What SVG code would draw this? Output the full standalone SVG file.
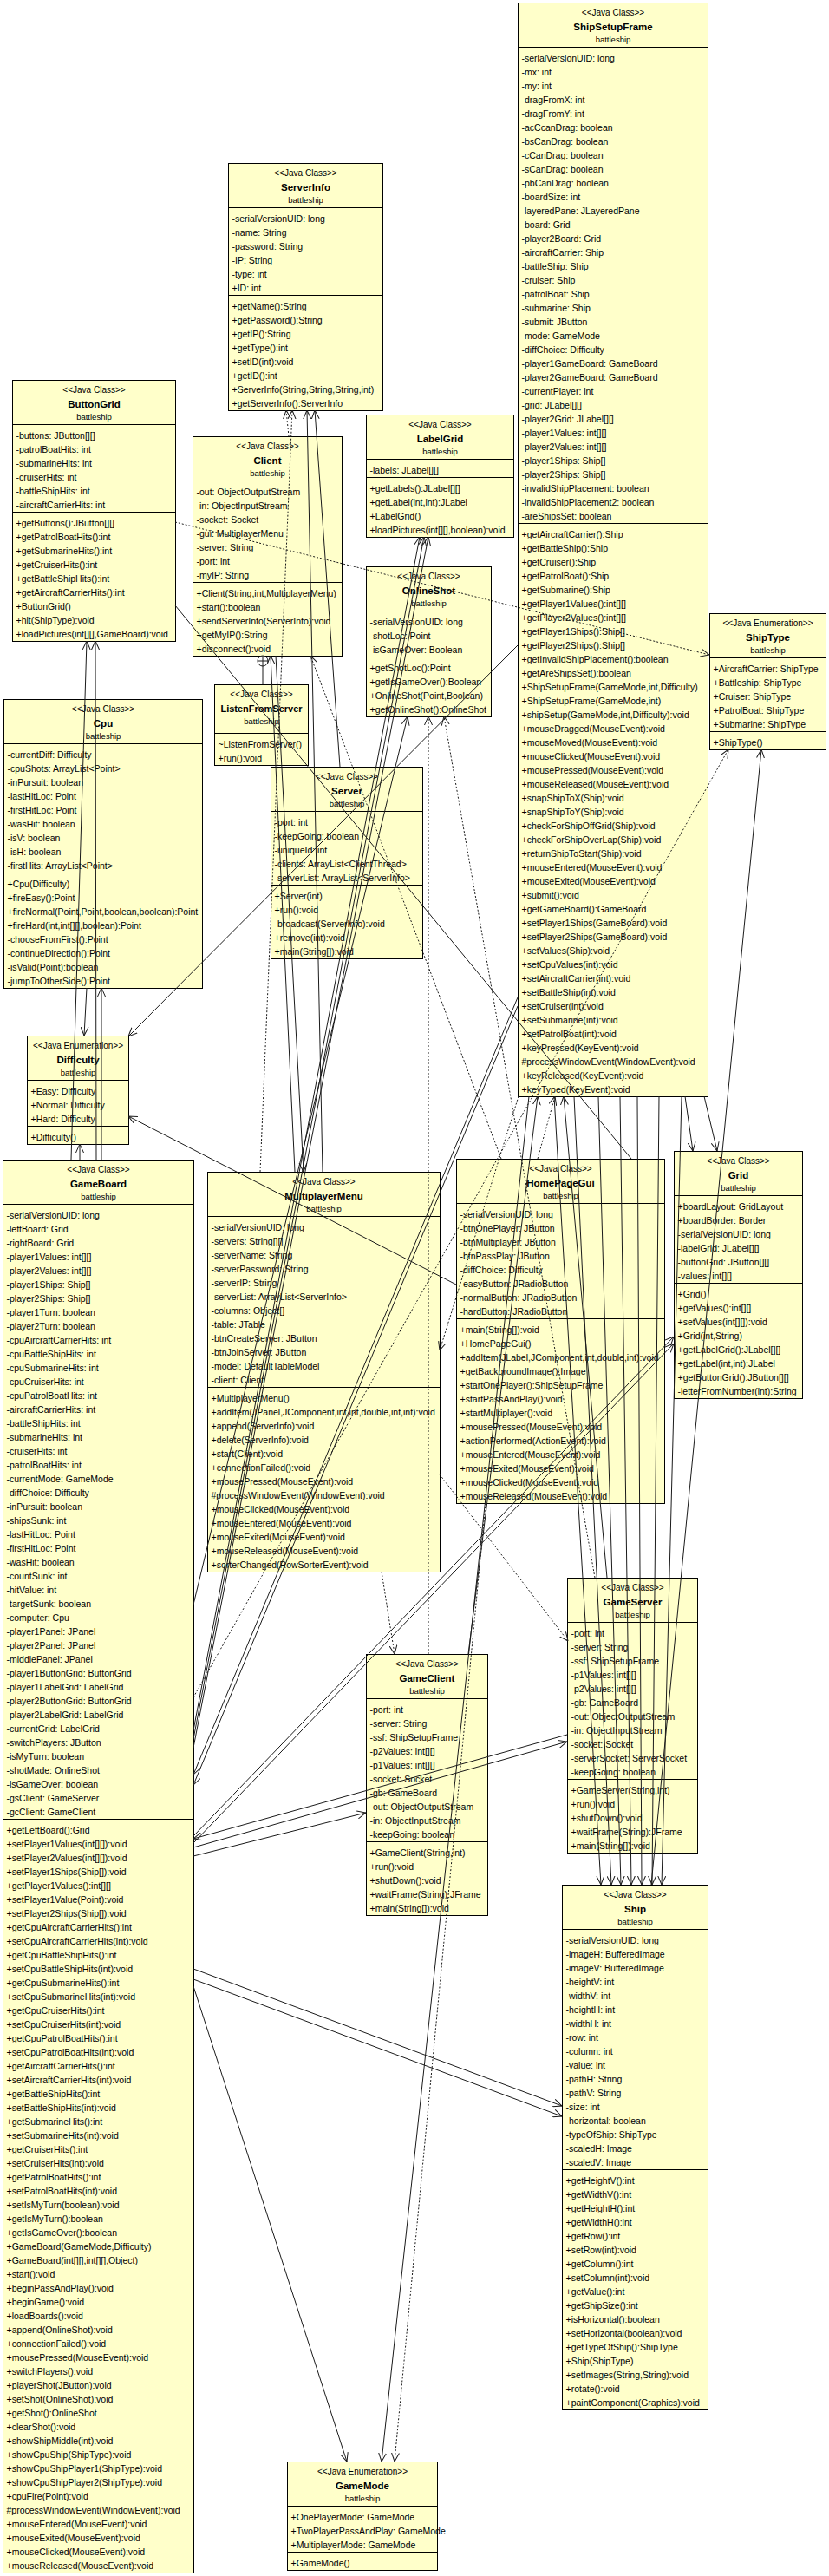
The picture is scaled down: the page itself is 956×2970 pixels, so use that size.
<svg xmlns="http://www.w3.org/2000/svg" width="956" height="2970" viewBox="0 0 956 2970">
<defs>
<style>
.b{fill:#FFFFCA;stroke:#000;stroke-width:1}
.s{stroke:#000;stroke-width:1;fill:none}
text{font-family:"Liberation Sans",Arial,sans-serif;font-size:10.5px;fill:#000}
.st{font-size:10px;text-anchor:middle}
.nm{font-size:11.5px;font-weight:bold;text-anchor:middle}
.pk{font-size:9.5px;text-anchor:middle}
.c{fill:none;stroke:#1a1a1a;stroke-width:1}
.d{stroke-dasharray:2,2}
</style>
<marker id="ah" viewBox="0 0 10 10" refX="10" refY="5" markerWidth="10" markerHeight="10" markerUnits="userSpaceOnUse" orient="auto"><path d="M0,0.5 L10,5 L0,9.5" fill="none" stroke="#1a1a1a" stroke-width="1"/></marker>
</defs>
<rect width="956" height="2970" fill="#fff"/>

<g id="ShipSetupFrame" transform="translate(597.5,3.5)">
<rect class="b" width="219" height="1261"/>
<text class="st" x="109.5" y="14">&lt;&lt;Java Class&gt;&gt;</text>
<text class="nm" x="109.5" y="31">ShipSetupFrame</text>
<text class="pk" x="109.5" y="45">battleship</text>
<path class="s" d="M0,51H219M0,600H219"/>
<text x="4" y="67"><tspan>-serialVersionUID: long</tspan><tspan x="4" dy="16">-mx: int</tspan><tspan x="4" dy="16">-my: int</tspan><tspan x="4" dy="16">-dragFromX: int</tspan><tspan x="4" dy="16">-dragFromY: int</tspan><tspan x="4" dy="16">-acCcanDrag: boolean</tspan><tspan x="4" dy="16">-bsCanDrag: boolean</tspan><tspan x="4" dy="16">-cCanDrag: boolean</tspan><tspan x="4" dy="16">-sCanDrag: boolean</tspan><tspan x="4" dy="16">-pbCanDrag: boolean</tspan><tspan x="4" dy="16">-boardSize: int</tspan><tspan x="4" dy="16">-layeredPane: JLayeredPane</tspan><tspan x="4" dy="16">-board: Grid</tspan><tspan x="4" dy="16">-player2Board: Grid</tspan><tspan x="4" dy="16">-aircraftCarrier: Ship</tspan><tspan x="4" dy="16">-battleShip: Ship</tspan><tspan x="4" dy="16">-cruiser: Ship</tspan><tspan x="4" dy="16">-patrolBoat: Ship</tspan><tspan x="4" dy="16">-submarine: Ship</tspan><tspan x="4" dy="16">-submit: JButton</tspan><tspan x="4" dy="16">-mode: GameMode</tspan><tspan x="4" dy="16">-diffChoice: Difficulty</tspan><tspan x="4" dy="16">-player1GameBoard: GameBoard</tspan><tspan x="4" dy="16">-player2GameBoard: GameBoard</tspan><tspan x="4" dy="16">-currentPlayer: int</tspan><tspan x="4" dy="16">-grid: JLabel[][]</tspan><tspan x="4" dy="16">-player2Grid: JLabel[][]</tspan><tspan x="4" dy="16">-player1Values: int[][]</tspan><tspan x="4" dy="16">-player2Values: int[][]</tspan><tspan x="4" dy="16">-player1Ships: Ship[]</tspan><tspan x="4" dy="16">-player2Ships: Ship[]</tspan><tspan x="4" dy="16">-invalidShipPlacement: boolean</tspan><tspan x="4" dy="16">-invalidShipPlacement2: boolean</tspan><tspan x="4" dy="16">-areShipsSet: boolean</tspan></text>
<text x="4" y="616"><tspan>+getAircraftCarrier():Ship</tspan><tspan x="4" dy="16">+getBattleShip():Ship</tspan><tspan x="4" dy="16">+getCruiser():Ship</tspan><tspan x="4" dy="16">+getPatrolBoat():Ship</tspan><tspan x="4" dy="16">+getSubmarine():Ship</tspan><tspan x="4" dy="16">+getPlayer1Values():int[][]</tspan><tspan x="4" dy="16">+getPlayer2Values():int[][]</tspan><tspan x="4" dy="16">+getPlayer1Ships():Ship[]</tspan><tspan x="4" dy="16">+getPlayer2Ships():Ship[]</tspan><tspan x="4" dy="16">+getInvalidShipPlacement():boolean</tspan><tspan x="4" dy="16">+getAreShipsSet():boolean</tspan><tspan x="4" dy="16">+ShipSetupFrame(GameMode,int,Difficulty)</tspan><tspan x="4" dy="16">+ShipSetupFrame(GameMode,int)</tspan><tspan x="4" dy="16">+shipSetup(GameMode,int,Difficulty):void</tspan><tspan x="4" dy="16">+mouseDragged(MouseEvent):void</tspan><tspan x="4" dy="16">+mouseMoved(MouseEvent):void</tspan><tspan x="4" dy="16">+mouseClicked(MouseEvent):void</tspan><tspan x="4" dy="16">+mousePressed(MouseEvent):void</tspan><tspan x="4" dy="16">+mouseReleased(MouseEvent):void</tspan><tspan x="4" dy="16">+snapShipToX(Ship):void</tspan><tspan x="4" dy="16">+snapShipToY(Ship):void</tspan><tspan x="4" dy="16">+checkForShipOffGrid(Ship):void</tspan><tspan x="4" dy="16">+checkForShipOverLap(Ship):void</tspan><tspan x="4" dy="16">+returnShipToStart(Ship):void</tspan><tspan x="4" dy="16">+mouseEntered(MouseEvent):void</tspan><tspan x="4" dy="16">+mouseExited(MouseEvent):void</tspan><tspan x="4" dy="16">+submit():void</tspan><tspan x="4" dy="16">+getGameBoard():GameBoard</tspan><tspan x="4" dy="16">+setPlayer1Ships(GameBoard):void</tspan><tspan x="4" dy="16">+setPlayer2Ships(GameBoard):void</tspan><tspan x="4" dy="16">+setValues(Ship):void</tspan><tspan x="4" dy="16">+setCpuValues(int):void</tspan><tspan x="4" dy="16">+setAircraftCarrier(int):void</tspan><tspan x="4" dy="16">+setBattleShip(int):void</tspan><tspan x="4" dy="16">+setCruiser(int):void</tspan><tspan x="4" dy="16">+setSubmarine(int):void</tspan><tspan x="4" dy="16">+setPatrolBoat(int):void</tspan><tspan x="4" dy="16">+keyPressed(KeyEvent):void</tspan><tspan x="4" dy="16">#processWindowEvent(WindowEvent):void</tspan><tspan x="4" dy="16">+keyReleased(KeyEvent):void</tspan><tspan x="4" dy="16">+keyTyped(KeyEvent):void</tspan></text>
</g>

<g id="ServerInfo" transform="translate(263.5,188.5)">
<rect class="b" width="178" height="285"/>
<text class="st" x="89" y="14">&lt;&lt;Java Class&gt;&gt;</text>
<text class="nm" x="89" y="31">ServerInfo</text>
<text class="pk" x="89" y="45">battleship</text>
<path class="s" d="M0,51H178M0,152H178"/>
<text x="4" y="67"><tspan>-serialVersionUID: long</tspan><tspan x="4" dy="16">-name: String</tspan><tspan x="4" dy="16">-password: String</tspan><tspan x="4" dy="16">-IP: String</tspan><tspan x="4" dy="16">-type: int</tspan><tspan x="4" dy="16">+ID: int</tspan></text>
<text x="4" y="168"><tspan>+getName():String</tspan><tspan x="4" dy="16">+getPassword():String</tspan><tspan x="4" dy="16">+getIP():String</tspan><tspan x="4" dy="16">+getType():int</tspan><tspan x="4" dy="16">+setID(int):void</tspan><tspan x="4" dy="16">+getID():int</tspan><tspan x="4" dy="16">+ServerInfo(String,String,String,int)</tspan><tspan x="4" dy="16">+getServerInfo():ServerInfo</tspan></text>
</g>

<g id="ButtonGrid" transform="translate(14.5,438.5)">
<rect class="b" width="188" height="301"/>
<text class="st" x="94" y="14">&lt;&lt;Java Class&gt;&gt;</text>
<text class="nm" x="94" y="31">ButtonGrid</text>
<text class="pk" x="94" y="45">battleship</text>
<path class="s" d="M0,51H188M0,152H188"/>
<text x="4" y="67"><tspan>-buttons: JButton[][]</tspan><tspan x="4" dy="16">-patrolBoatHits: int</tspan><tspan x="4" dy="16">-submarineHits: int</tspan><tspan x="4" dy="16">-cruiserHits: int</tspan><tspan x="4" dy="16">-battleShipHits: int</tspan><tspan x="4" dy="16">-aircraftCarrierHits: int</tspan></text>
<text x="4" y="168"><tspan>+getButtons():JButton[][]</tspan><tspan x="4" dy="16">+getPatrolBoatHits():int</tspan><tspan x="4" dy="16">+getSubmarineHits():int</tspan><tspan x="4" dy="16">+getCruiserHits():int</tspan><tspan x="4" dy="16">+getBattleShipHits():int</tspan><tspan x="4" dy="16">+getAircraftCarrierHits():int</tspan><tspan x="4" dy="16">+ButtonGrid()</tspan><tspan x="4" dy="16">+hit(ShipType):void</tspan><tspan x="4" dy="16">+loadPictures(int[][],GameBoard):void</tspan></text>
</g>

<g id="Client" transform="translate(222.5,503.5)">
<rect class="b" width="172" height="253"/>
<text class="st" x="86" y="14">&lt;&lt;Java Class&gt;&gt;</text>
<text class="nm" x="86" y="31">Client</text>
<text class="pk" x="86" y="45">battleship</text>
<path class="s" d="M0,51H172M0,168H172"/>
<text x="4" y="67"><tspan>-out: ObjectOutputStream</tspan><tspan x="4" dy="16">-in: ObjectInputStream</tspan><tspan x="4" dy="16">-socket: Socket</tspan><tspan x="4" dy="16">-gui: MultiplayerMenu</tspan><tspan x="4" dy="16">-server: String</tspan><tspan x="4" dy="16">-port: int</tspan><tspan x="4" dy="16">-myIP: String</tspan></text>
<text x="4" y="184"><tspan>+Client(String,int,MultiplayerMenu)</tspan><tspan x="4" dy="16">+start():boolean</tspan><tspan x="4" dy="16">+sendServerInfo(ServerInfo):void</tspan><tspan x="4" dy="16">+getMyIP():String</tspan><tspan x="4" dy="16">+disconnect():void</tspan></text>
</g>

<g id="LabelGrid" transform="translate(422.5,478.5)">
<rect class="b" width="170" height="141"/>
<text class="st" x="85" y="14">&lt;&lt;Java Class&gt;&gt;</text>
<text class="nm" x="85" y="31">LabelGrid</text>
<text class="pk" x="85" y="45">battleship</text>
<path class="s" d="M0,51H170M0,72H170"/>
<text x="4" y="67">-labels: JLabel[][]</text>
<text x="4" y="88"><tspan>+getLabels():JLabel[][]</tspan><tspan x="4" dy="16">+getLabel(int,int):JLabel</tspan><tspan x="4" dy="16">+LabelGrid()</tspan><tspan x="4" dy="16">+loadPictures(int[][],boolean):void</tspan></text>
</g>

<g id="OnlineShot" transform="translate(422.5,653.5)">
<rect class="b" width="144" height="173"/>
<text class="st" x="72" y="14">&lt;&lt;Java Class&gt;&gt;</text>
<text class="nm" x="72" y="31">OnlineShot</text>
<text class="pk" x="72" y="45">battleship</text>
<path class="s" d="M0,51H144M0,104H144"/>
<text x="4" y="67"><tspan>-serialVersionUID: long</tspan><tspan x="4" dy="16">-shotLoc: Point</tspan><tspan x="4" dy="16">-isGameOver: Boolean</tspan></text>
<text x="4" y="120"><tspan>+getShotLoc():Point</tspan><tspan x="4" dy="16">+getIsGameOver():Boolean</tspan><tspan x="4" dy="16">+OnlineShot(Point,Boolean)</tspan><tspan x="4" dy="16">+getOnlineShot():OnlineShot</tspan></text>
</g>

<g id="ListenFromServer" transform="translate(247.5,789.5)">
<rect class="b" width="108" height="93"/>
<text class="st" x="54" y="14">&lt;&lt;Java Class&gt;&gt;</text>
<text class="nm" x="54" y="31" style="font-size:11px">ListenFromServer</text>
<text class="pk" x="54" y="45">battleship</text>
<path class="s" d="M0,51H108M0,56H108"/>
<text x="4" y="72"><tspan>~ListenFromServer()</tspan><tspan x="4" dy="16">+run():void</tspan></text>
</g>

<g id="Server" transform="translate(312.5,884.5)">
<rect class="b" width="175" height="221"/>
<text class="st" x="87.5" y="14">&lt;&lt;Java Class&gt;&gt;</text>
<text class="nm" x="87.5" y="31">Server</text>
<text class="pk" x="87.5" y="45">battleship</text>
<path class="s" d="M0,51H175M0,136H175"/>
<text x="4" y="67"><tspan>-port: int</tspan><tspan x="4" dy="16">-keepGoing: boolean</tspan><tspan x="4" dy="16">-uniqueId: int</tspan><tspan x="4" dy="16">-clients: ArrayList&lt;ClientThread&gt;</tspan><tspan x="4" dy="16">-serverList: ArrayList&lt;ServerInfo&gt;</tspan></text>
<text x="4" y="152"><tspan>+Server(int)</tspan><tspan x="4" dy="16">+run():void</tspan><tspan x="4" dy="16">-broadcast(ServerInfo):void</tspan><tspan x="4" dy="16">+remove(int):void</tspan><tspan x="4" dy="16">+main(String[]):void</tspan></text>
</g>

<g id="Cpu" transform="translate(4.5,806.5)">
<rect class="b" width="229" height="333"/>
<text class="st" x="114.5" y="14">&lt;&lt;Java Class&gt;&gt;</text>
<text class="nm" x="114.5" y="31">Cpu</text>
<text class="pk" x="114.5" y="45">battleship</text>
<path class="s" d="M0,51H229M0,200H229"/>
<text x="4" y="67"><tspan>-currentDiff: Difficulty</tspan><tspan x="4" dy="16">-cpuShots: ArrayList&lt;Point&gt;</tspan><tspan x="4" dy="16">-inPursuit: boolean</tspan><tspan x="4" dy="16">-lastHitLoc: Point</tspan><tspan x="4" dy="16">-firstHitLoc: Point</tspan><tspan x="4" dy="16">-wasHit: boolean</tspan><tspan x="4" dy="16">-isV: boolean</tspan><tspan x="4" dy="16">-isH: boolean</tspan><tspan x="4" dy="16">-firstHits: ArrayList&lt;Point&gt;</tspan></text>
<text x="4" y="216"><tspan>+Cpu(Difficulty)</tspan><tspan x="4" dy="16">+fireEasy():Point</tspan><tspan x="4" dy="16">+fireNormal(Point,Point,boolean,boolean):Point</tspan><tspan x="4" dy="16">+fireHard(int,int[][],boolean):Point</tspan><tspan x="4" dy="16">-chooseFromFirst():Point</tspan><tspan x="4" dy="16">-continueDirection():Point</tspan><tspan x="4" dy="16">-isValid(Point):boolean</tspan><tspan x="4" dy="16">-jumpToOtherSide():Point</tspan></text>
</g>

<g id="Difficulty" transform="translate(31.5,1194.5)">
<rect class="b" width="117" height="125"/>
<text class="st" x="58.5" y="14">&lt;&lt;Java Enumeration&gt;&gt;</text>
<text class="nm" x="58.5" y="31">Difficulty</text>
<text class="pk" x="58.5" y="45">battleship</text>
<path class="s" d="M0,51H117M0,104H117"/>
<text x="4" y="67"><tspan>+Easy: Difficulty</tspan><tspan x="4" dy="16">+Normal: Difficulty</tspan><tspan x="4" dy="16">+Hard: Difficulty</tspan></text>
<text x="4" y="120">+Difficulty()</text>
</g>

<g id="ShipType" transform="translate(818.5,707.5)">
<rect class="b" width="134" height="157"/>
<text class="st" x="67" y="14">&lt;&lt;Java Enumeration&gt;&gt;</text>
<text class="nm" x="67" y="31">ShipType</text>
<text class="pk" x="67" y="45">battleship</text>
<path class="s" d="M0,51H134M0,136H134"/>
<text x="4" y="67"><tspan>+AircraftCarrier: ShipType</tspan><tspan x="4" dy="16">+Battleship: ShipType</tspan><tspan x="4" dy="16">+Cruiser: ShipType</tspan><tspan x="4" dy="16">+PatrolBoat: ShipType</tspan><tspan x="4" dy="16">+Submarine: ShipType</tspan></text>
<text x="4" y="152">+ShipType()</text>
</g>

<g id="GameBoard" transform="translate(3.5,1337.5)">
<rect class="b" width="220" height="1629"/>
<text class="st" x="110" y="14">&lt;&lt;Java Class&gt;&gt;</text>
<text class="nm" x="110" y="31">GameBoard</text>
<text class="pk" x="110" y="45">battleship</text>
<path class="s" d="M0,51H220M0,760H220"/>
<text x="4" y="67"><tspan>-serialVersionUID: long</tspan><tspan x="4" dy="16">-leftBoard: Grid</tspan><tspan x="4" dy="16">-rightBoard: Grid</tspan><tspan x="4" dy="16">-player1Values: int[][]</tspan><tspan x="4" dy="16">-player2Values: int[][]</tspan><tspan x="4" dy="16">-player1Ships: Ship[]</tspan><tspan x="4" dy="16">-player2Ships: Ship[]</tspan><tspan x="4" dy="16">-player1Turn: boolean</tspan><tspan x="4" dy="16">-player2Turn: boolean</tspan><tspan x="4" dy="16">-cpuAircraftCarrierHits: int</tspan><tspan x="4" dy="16">-cpuBattleShipHits: int</tspan><tspan x="4" dy="16">-cpuSubmarineHits: int</tspan><tspan x="4" dy="16">-cpuCruiserHits: int</tspan><tspan x="4" dy="16">-cpuPatrolBoatHits: int</tspan><tspan x="4" dy="16">-aircraftCarrierHits: int</tspan><tspan x="4" dy="16">-battleShipHits: int</tspan><tspan x="4" dy="16">-submarineHits: int</tspan><tspan x="4" dy="16">-cruiserHits: int</tspan><tspan x="4" dy="16">-patrolBoatHits: int</tspan><tspan x="4" dy="16">-currentMode: GameMode</tspan><tspan x="4" dy="16">-diffChoice: Difficulty</tspan><tspan x="4" dy="16">-inPursuit: boolean</tspan><tspan x="4" dy="16">-shipsSunk: int</tspan><tspan x="4" dy="16">-lastHitLoc: Point</tspan><tspan x="4" dy="16">-firstHitLoc: Point</tspan><tspan x="4" dy="16">-wasHit: boolean</tspan><tspan x="4" dy="16">-countSunk: int</tspan><tspan x="4" dy="16">-hitValue: int</tspan><tspan x="4" dy="16">-targetSunk: boolean</tspan><tspan x="4" dy="16">-computer: Cpu</tspan><tspan x="4" dy="16">-player1Panel: JPanel</tspan><tspan x="4" dy="16">-player2Panel: JPanel</tspan><tspan x="4" dy="16">-middlePanel: JPanel</tspan><tspan x="4" dy="16">-player1ButtonGrid: ButtonGrid</tspan><tspan x="4" dy="16">-player1LabelGrid: LabelGrid</tspan><tspan x="4" dy="16">-player2ButtonGrid: ButtonGrid</tspan><tspan x="4" dy="16">-player2LabelGrid: LabelGrid</tspan><tspan x="4" dy="16">-currentGrid: LabelGrid</tspan><tspan x="4" dy="16">-switchPlayers: JButton</tspan><tspan x="4" dy="16">-isMyTurn: boolean</tspan><tspan x="4" dy="16">-shotMade: OnlineShot</tspan><tspan x="4" dy="16">-isGameOver: boolean</tspan><tspan x="4" dy="16">-gsClient: GameServer</tspan><tspan x="4" dy="16">-gcClient: GameClient</tspan></text>
<text x="4" y="776"><tspan>+getLeftBoard():Grid</tspan><tspan x="4" dy="16">+setPlayer1Values(int[][]):void</tspan><tspan x="4" dy="16">+setPlayer2Values(int[][]):void</tspan><tspan x="4" dy="16">+setPlayer1Ships(Ship[]):void</tspan><tspan x="4" dy="16">+getPlayer1Values():int[][]</tspan><tspan x="4" dy="16">+setPlayer1Value(Point):void</tspan><tspan x="4" dy="16">+setPlayer2Ships(Ship[]):void</tspan><tspan x="4" dy="16">+getCpuAircraftCarrierHits():int</tspan><tspan x="4" dy="16">+setCpuAircraftCarrierHits(int):void</tspan><tspan x="4" dy="16">+getCpuBattleShipHits():int</tspan><tspan x="4" dy="16">+setCpuBattleShipHits(int):void</tspan><tspan x="4" dy="16">+getCpuSubmarineHits():int</tspan><tspan x="4" dy="16">+setCpuSubmarineHits(int):void</tspan><tspan x="4" dy="16">+getCpuCruiserHits():int</tspan><tspan x="4" dy="16">+setCpuCruiserHits(int):void</tspan><tspan x="4" dy="16">+getCpuPatrolBoatHits():int</tspan><tspan x="4" dy="16">+setCpuPatrolBoatHits(int):void</tspan><tspan x="4" dy="16">+getAircraftCarrierHits():int</tspan><tspan x="4" dy="16">+setAircraftCarrierHits(int):void</tspan><tspan x="4" dy="16">+getBattleShipHits():int</tspan><tspan x="4" dy="16">+setBattleShipHits(int):void</tspan><tspan x="4" dy="16">+getSubmarineHits():int</tspan><tspan x="4" dy="16">+setSubmarineHits(int):void</tspan><tspan x="4" dy="16">+getCruiserHits():int</tspan><tspan x="4" dy="16">+setCruiserHits(int):void</tspan><tspan x="4" dy="16">+getPatrolBoatHits():int</tspan><tspan x="4" dy="16">+setPatrolBoatHits(int):void</tspan><tspan x="4" dy="16">+setIsMyTurn(boolean):void</tspan><tspan x="4" dy="16">+getIsMyTurn():boolean</tspan><tspan x="4" dy="16">+getIsGameOver():boolean</tspan><tspan x="4" dy="16">+GameBoard(GameMode,Difficulty)</tspan><tspan x="4" dy="16">+GameBoard(int[][],int[][],Object)</tspan><tspan x="4" dy="16">+start():void</tspan><tspan x="4" dy="16">+beginPassAndPlay():void</tspan><tspan x="4" dy="16">+beginGame():void</tspan><tspan x="4" dy="16">+loadBoards():void</tspan><tspan x="4" dy="16">+append(OnlineShot):void</tspan><tspan x="4" dy="16">+connectionFailed():void</tspan><tspan x="4" dy="16">+mousePressed(MouseEvent):void</tspan><tspan x="4" dy="16">+switchPlayers():void</tspan><tspan x="4" dy="16">+playerShot(JButton):void</tspan><tspan x="4" dy="16">+setShot(OnlineShot):void</tspan><tspan x="4" dy="16">+getShot():OnlineShot</tspan><tspan x="4" dy="16">+clearShot():void</tspan><tspan x="4" dy="16">+showShipMiddle(int):void</tspan><tspan x="4" dy="16">+showCpuShip(ShipType):void</tspan><tspan x="4" dy="16">+showCpuShipPlayer1(ShipType):void</tspan><tspan x="4" dy="16">+showCpuShipPlayer2(ShipType):void</tspan><tspan x="4" dy="16">+cpuFire(Point):void</tspan><tspan x="4" dy="16">#processWindowEvent(WindowEvent):void</tspan><tspan x="4" dy="16">+mouseEntered(MouseEvent):void</tspan><tspan x="4" dy="16">+mouseExited(MouseEvent):void</tspan><tspan x="4" dy="16">+mouseClicked(MouseEvent):void</tspan><tspan x="4" dy="16">+mouseReleased(MouseEvent):void</tspan></text>
</g>

<g id="MultiplayerMenu" transform="translate(239.5,1351.5)">
<rect class="b" width="268" height="461"/>
<text class="st" x="134" y="14">&lt;&lt;Java Class&gt;&gt;</text>
<text class="nm" x="134" y="31">MultiplayerMenu</text>
<text class="pk" x="134" y="45">battleship</text>
<path class="s" d="M0,51H268M0,248H268"/>
<text x="4" y="67"><tspan>-serialVersionUID: long</tspan><tspan x="4" dy="16">-servers: String[][]</tspan><tspan x="4" dy="16">-serverName: String</tspan><tspan x="4" dy="16">-serverPassword: String</tspan><tspan x="4" dy="16">-serverIP: String</tspan><tspan x="4" dy="16">-serverList: ArrayList&lt;ServerInfo&gt;</tspan><tspan x="4" dy="16">-columns: Object[]</tspan><tspan x="4" dy="16">-table: JTable</tspan><tspan x="4" dy="16">-btnCreateServer: JButton</tspan><tspan x="4" dy="16">-btnJoinServer: JButton</tspan><tspan x="4" dy="16">-model: DefaultTableModel</tspan><tspan x="4" dy="16">-client: Client</tspan></text>
<text x="4" y="264"><tspan>+MultiplayerMenu()</tspan><tspan x="4" dy="16">+addItem(JPanel,JComponent,int,int,double,int,int):void</tspan><tspan x="4" dy="16">+append(ServerInfo):void</tspan><tspan x="4" dy="16">+delete(ServerInfo):void</tspan><tspan x="4" dy="16">+start(Client):void</tspan><tspan x="4" dy="16">+connectionFailed():void</tspan><tspan x="4" dy="16">+mousePressed(MouseEvent):void</tspan><tspan x="4" dy="16">#processWindowEvent(WindowEvent):void</tspan><tspan x="4" dy="16">+mouseClicked(MouseEvent):void</tspan><tspan x="4" dy="16">+mouseEntered(MouseEvent):void</tspan><tspan x="4" dy="16">+mouseExited(MouseEvent):void</tspan><tspan x="4" dy="16">+mouseReleased(MouseEvent):void</tspan><tspan x="4" dy="16">+sorterChanged(RowSorterEvent):void</tspan></text>
</g>

<g id="HomePageGui" transform="translate(526.5,1336.5)">
<rect class="b" width="240" height="397"/>
<text class="st" x="120" y="14">&lt;&lt;Java Class&gt;&gt;</text>
<text class="nm" x="120" y="31">HomePageGui</text>
<text class="pk" x="120" y="45">battleship</text>
<path class="s" d="M0,51H240M0,184H240"/>
<text x="4" y="67"><tspan>-serialVersionUID: long</tspan><tspan x="4" dy="16">-btnOnePlayer: JButton</tspan><tspan x="4" dy="16">-btnMultiplayer: JButton</tspan><tspan x="4" dy="16">-btnPassPlay: JButton</tspan><tspan x="4" dy="16">-diffChoice: Difficulty</tspan><tspan x="4" dy="16">-easyButton: JRadioButton</tspan><tspan x="4" dy="16">-normalButton: JRadioButton</tspan><tspan x="4" dy="16">-hardButton: JRadioButton</tspan></text>
<text x="4" y="200"><tspan>+main(String[]):void</tspan><tspan x="4" dy="16">+HomePageGui()</tspan><tspan x="4" dy="16">+addItem(JLabel,JComponent,int,double,int):void</tspan><tspan x="4" dy="16">+getBackgroundImage():Image</tspan><tspan x="4" dy="16">+startOnePlayer():ShipSetupFrame</tspan><tspan x="4" dy="16">+startPassAndPlay():void</tspan><tspan x="4" dy="16">+startMultiplayer():void</tspan><tspan x="4" dy="16">+mousePressed(MouseEvent):void</tspan><tspan x="4" dy="16">+actionPerformed(ActionEvent):void</tspan><tspan x="4" dy="16">+mouseEntered(MouseEvent):void</tspan><tspan x="4" dy="16">+mouseExited(MouseEvent):void</tspan><tspan x="4" dy="16">+mouseClicked(MouseEvent):void</tspan><tspan x="4" dy="16">+mouseReleased(MouseEvent):void</tspan></text>
</g>

<g id="Grid" transform="translate(777.5,1327.5)">
<rect class="b" width="148" height="285"/>
<text class="st" x="74" y="14">&lt;&lt;Java Class&gt;&gt;</text>
<text class="nm" x="74" y="31">Grid</text>
<text class="pk" x="74" y="45">battleship</text>
<path class="s" d="M0,51H148M0,152H148"/>
<text x="4" y="67"><tspan>+boardLayout: GridLayout</tspan><tspan x="4" dy="16">+boardBorder: Border</tspan><tspan x="4" dy="16">-serialVersionUID: long</tspan><tspan x="4" dy="16">-labelGrid: JLabel[][]</tspan><tspan x="4" dy="16">-buttonGrid: JButton[][]</tspan><tspan x="4" dy="16">-values: int[][]</tspan></text>
<text x="4" y="168"><tspan>+Grid()</tspan><tspan x="4" dy="16">+getValues():int[][]</tspan><tspan x="4" dy="16">+setValues(int[][]):void</tspan><tspan x="4" dy="16">+Grid(int,String)</tspan><tspan x="4" dy="16">+getLabelGrid():JLabel[][]</tspan><tspan x="4" dy="16">+getLabel(int,int):JLabel</tspan><tspan x="4" dy="16">+getButtonGrid():JButton[][]</tspan><tspan x="4" dy="16">-letterFromNumber(int):String</tspan></text>
</g>

<g id="GameServer" transform="translate(654.5,1819.5)">
<rect class="b" width="150" height="317"/>
<text class="st" x="75" y="14">&lt;&lt;Java Class&gt;&gt;</text>
<text class="nm" x="75" y="31">GameServer</text>
<text class="pk" x="75" y="45">battleship</text>
<path class="s" d="M0,51H150M0,232H150"/>
<text x="4" y="67"><tspan>-port: int</tspan><tspan x="4" dy="16">-server: String</tspan><tspan x="4" dy="16">-ssf: ShipSetupFrame</tspan><tspan x="4" dy="16">-p1Values: int[][]</tspan><tspan x="4" dy="16">-p2Values: int[][]</tspan><tspan x="4" dy="16">-gb: GameBoard</tspan><tspan x="4" dy="16">-out: ObjectOutputStream</tspan><tspan x="4" dy="16">-in: ObjectInputStream</tspan><tspan x="4" dy="16">-socket: Socket</tspan><tspan x="4" dy="16">-serverSocket: ServerSocket</tspan><tspan x="4" dy="16">-keepGoing: boolean</tspan></text>
<text x="4" y="248"><tspan>+GameServer(String,int)</tspan><tspan x="4" dy="16">+run():void</tspan><tspan x="4" dy="16">+shutDown():void</tspan><tspan x="4" dy="16">+waitFrame(String):JFrame</tspan><tspan x="4" dy="16">+main(String[]):void</tspan></text>
</g>

<g id="GameClient" transform="translate(422.5,1907.5)">
<rect class="b" width="140" height="301"/>
<text class="st" x="70" y="14">&lt;&lt;Java Class&gt;&gt;</text>
<text class="nm" x="70" y="31">GameClient</text>
<text class="pk" x="70" y="45">battleship</text>
<path class="s" d="M0,51H140M0,216H140"/>
<text x="4" y="67"><tspan>-port: int</tspan><tspan x="4" dy="16">-server: String</tspan><tspan x="4" dy="16">-ssf: ShipSetupFrame</tspan><tspan x="4" dy="16">-p2Values: int[][]</tspan><tspan x="4" dy="16">-p1Values: int[][]</tspan><tspan x="4" dy="16">-socket: Socket</tspan><tspan x="4" dy="16">-gb: GameBoard</tspan><tspan x="4" dy="16">-out: ObjectOutputStream</tspan><tspan x="4" dy="16">-in: ObjectInputStream</tspan><tspan x="4" dy="16">-keepGoing: boolean</tspan></text>
<text x="4" y="232"><tspan>+GameClient(String,int)</tspan><tspan x="4" dy="16">+run():void</tspan><tspan x="4" dy="16">+shutDown():void</tspan><tspan x="4" dy="16">+waitFrame(String):JFrame</tspan><tspan x="4" dy="16">+main(String[]):void</tspan></text>
</g>

<g id="Ship" transform="translate(648.5,2173.5)">
<rect class="b" width="168" height="605"/>
<text class="st" x="84" y="14">&lt;&lt;Java Class&gt;&gt;</text>
<text class="nm" x="84" y="31">Ship</text>
<text class="pk" x="84" y="45">battleship</text>
<path class="s" d="M0,51H168M0,328H168"/>
<text x="4" y="67"><tspan>-serialVersionUID: long</tspan><tspan x="4" dy="16">-imageH: BufferedImage</tspan><tspan x="4" dy="16">-imageV: BufferedImage</tspan><tspan x="4" dy="16">-heightV: int</tspan><tspan x="4" dy="16">-widthV: int</tspan><tspan x="4" dy="16">-heightH: int</tspan><tspan x="4" dy="16">-widthH: int</tspan><tspan x="4" dy="16">-row: int</tspan><tspan x="4" dy="16">-column: int</tspan><tspan x="4" dy="16">-value: int</tspan><tspan x="4" dy="16">-pathH: String</tspan><tspan x="4" dy="16">-pathV: String</tspan><tspan x="4" dy="16">-size: int</tspan><tspan x="4" dy="16">-horizontal: boolean</tspan><tspan x="4" dy="16">-typeOfShip: ShipType</tspan><tspan x="4" dy="16">-scaledH: Image</tspan><tspan x="4" dy="16">-scaledV: Image</tspan></text>
<text x="4" y="344"><tspan>+getHeightV():int</tspan><tspan x="4" dy="16">+getWidthV():int</tspan><tspan x="4" dy="16">+getHeightH():int</tspan><tspan x="4" dy="16">+getWidthH():int</tspan><tspan x="4" dy="16">+getRow():int</tspan><tspan x="4" dy="16">+setRow(int):void</tspan><tspan x="4" dy="16">+getColumn():int</tspan><tspan x="4" dy="16">+setColumn(int):void</tspan><tspan x="4" dy="16">+getValue():int</tspan><tspan x="4" dy="16">+getShipSize():int</tspan><tspan x="4" dy="16">+isHorizontal():boolean</tspan><tspan x="4" dy="16">+setHorizontal(boolean):void</tspan><tspan x="4" dy="16">+getTypeOfShip():ShipType</tspan><tspan x="4" dy="16">+Ship(ShipType)</tspan><tspan x="4" dy="16">+setImages(String,String):void</tspan><tspan x="4" dy="16">+rotate():void</tspan><tspan x="4" dy="16">+paintComponent(Graphics):void</tspan></text>
</g>

<g id="GameMode" transform="translate(331.5,2838.5)">
<rect class="b" width="173" height="125"/>
<text class="st" x="86.5" y="14">&lt;&lt;Java Enumeration&gt;&gt;</text>
<text class="nm" x="86.5" y="31">GameMode</text>
<text class="pk" x="86.5" y="45">battleship</text>
<path class="s" d="M0,51H173M0,104H173"/>
<text x="4" y="67"><tspan>+OnePlayerMode: GameMode</tspan><tspan x="4" dy="16">+TwoPlayerPassAndPlay: GameMode</tspan><tspan x="4" dy="16">+MultiplayerMode: GameMode</tspan></text>
<text x="4" y="120">+GameMode()</text>
</g>

<g id="connectors" class="c">
<g marker-end="url(#ah)">
<path d="M392,884L363,473"/>
<path d="M372,1351L354,473"/>
<path d="M340,1351L312,756"/>
<path d="M318,756L350,1351"/>
<path d="M92,1337L92,1319"/>
<path d="M82,1337L100,739"/>
<path d="M111,1337L110,739"/>
<path d="M117,1337L117,1139"/>
<path d="M100,1139L97,1194"/>
<path d="M597,744L148,1195"/>
<path d="M526,1481L148,1287"/>
<path d="M223,2117L777,1541"/>
<path d="M223,2125L777,1549"/>
<path d="M790,1264L799,1327"/>
<path d="M812,1264L827,1327"/>
<path d="M639,1264L693,2173"/>
<path d="M662,1264L705,2173"/>
<path d="M690,1264L716,2173"/>
<path d="M715,1264L728,2173"/>
<path d="M735,1264L740,2173"/>
<path d="M760,1264L752,2173"/>
<path d="M786,1264L763,2173"/>
<path d="M751,2173L878,864"/>
<path d="M223,1850L470,826"/>
<path d="M223,1995L484,619"/>
<path d="M223,2005L489,619"/>
<path d="M223,2015L494,619"/>
<path d="M223,2130L654,2008"/>
<path d="M654,2000L223,2120"/>
<path d="M223,2140L422,2090"/>
<path d="M700,1819L650,1264"/>
<path d="M540,1907L620,1264"/>
<path d="M597,1150L223,2046"/>
<path d="M597,1160L223,2058"/>
<path d="M610,1264L440,2838"/>
<path d="M223,2290L400,2838"/>
<path d="M223,2270L648,2428"/>
<path d="M223,2282L648,2440"/>
</g>
<path d="M202,698L728,1336"/>
<path d="M303,768L303,789"/>
<circle cx="303" cy="762" r="6" fill="#fff"/>
<path d="M297,762H309M303,756V768"/>
<g class="d" marker-end="url(#ah)">
<path d="M202,602L818,755"/>
<path d="M223,1957L840,864"/>
<path d="M494,1907L494,826"/>
<path d="M686,1819L512,826"/>
<path d="M333,503L330,473"/>
<path d="M300,1351L337,473"/>
<path d="M578,1336L358,756"/>
<path d="M598,1264L507,1557"/>
<path d="M440,1812L455,1907"/>
<path d="M507,1700L655,1892"/>
<path d="M560,1733L455,2838"/>
<path d="M620,1336L640,1264"/>
</g>
</g>
</svg>
